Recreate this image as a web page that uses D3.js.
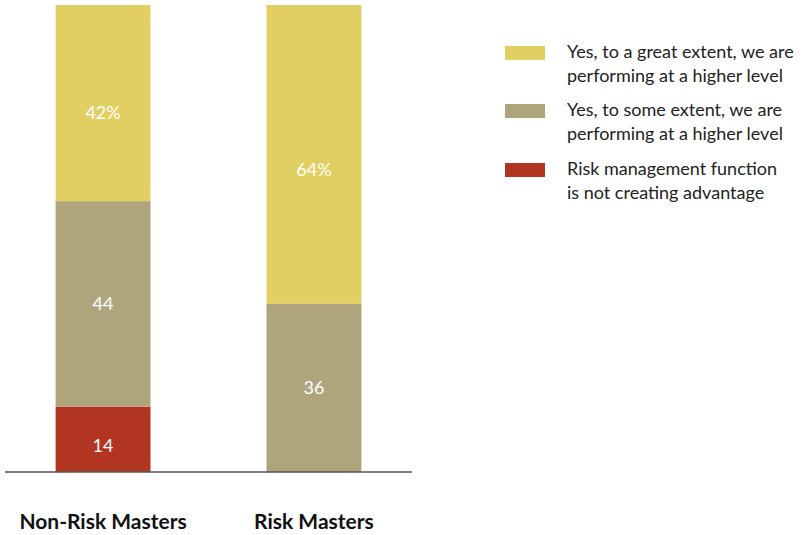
<!DOCTYPE html>
<html>
<head>
<meta charset="utf-8">
<script src="https://cdn.jsdelivr.net/npm/d3@7"></script>
<style>
  body { margin: 0; background: #fff; }
  text { font-family: "Lato", "Open Sans", sans-serif; }
</style>
</head>
<body>
<div id="chart"></div>
<script>
// Data
const groups = ["Non-Risk Masters", "Risk Masters"];
const seriesNames = [
  "Risk management function|is not creating advantage",
  "Yes, to some extent, we are|performing at a higher level",
  "Yes, to a great extent, we are|performing at a higher level"
];
const notCreating = [14, 0];
const someExtent = [44, 36];
const greatExtent = [42, 64];
const labelFormats = ["", "", "%"];
const colors = ["#b23522", "#afa57d", "#e2cf62"];
// where the value label sits inside its segment (0 = bottom, 1 = top)
const labelPos = [0.4, 0.5, 0.45];

const width = 803, height = 535;
const margin = { top: 5, bottom: 63 };

const svg = d3.select("#chart").append("svg")
  .attr("width", width)
  .attr("height", height);

const rows = groups.map((g, i) => ({
  group: g,
  s0: notCreating[i],
  s1: someExtent[i],
  s2: greatExtent[i]
}));

const stack = d3.stack().keys(["s0", "s1", "s2"]);
const stacked = stack(rows);

const x = d3.scaleBand()
  .domain(groups)
  .range([5, 412])
  .paddingInner(0.55)
  .paddingOuter(0.24);

const y = d3.scaleLinear()
  .domain([0, 100])
  .range([height - margin.bottom, margin.top]);

// Bars
const layers = svg.selectAll(".layer")
  .data(stacked)
  .enter().append("g")
  .attr("class", "layer")
  .attr("fill", (d, i) => colors[i]);

layers.selectAll("rect")
  .data(d => d.filter(p => p[1] - p[0] > 0))
  .enter().append("rect")
  .attr("x", d => x(d.data.group))
  .attr("width", x.bandwidth())
  .attr("y", d => y(d[1]))
  .attr("height", d => y(d[0]) - y(d[1]));

// Value labels
layers.each(function(layer, li) {
  d3.select(this).selectAll("text")
    .data(layer.filter(p => p[1] - p[0] > 0))
    .enter().append("text")
    .attr("x", d => x(d.data.group) + x.bandwidth() / 2)
    .attr("y", d => y(d[0] + (d[1] - d[0]) * labelPos[li]))
    .attr("dy", "0.36em")
    .attr("text-anchor", "middle")
    .attr("fill", "#fff")
    .style("font-size", "18px")
    .text(d => (d[1] - d[0]) + labelFormats[li]);
});

// Baseline
svg.append("line")
  .attr("x1", 5).attr("x2", 412)
  .attr("y1", y(0)).attr("y2", y(0))
  .attr("stroke", "#555")
  .attr("stroke-width", 1.3);

// Category labels
const xAxis = svg.append("g")
  .attr("transform", "translate(0," + y(0) + ")")
  .call(d3.axisBottom(x).tickSize(0).tickPadding(0));
xAxis.select(".domain").remove();
xAxis.selectAll("text")
  .attr("y", 57)
  .attr("dy", 0)
  .attr("fill", "#111")
  .style("font-family", "Lato, 'Open Sans', sans-serif")
  .style("font-size", "21px")
  .style("font-weight", "bold");

// Legend
const legendOrder = [2, 1, 0];
const legendTops = [46, 104, 163];
const legend = svg.selectAll(".legend")
  .data(legendOrder)
  .enter().append("g")
  .attr("class", "legend")
  .attr("transform", (d, i) => "translate(505," + legendTops[i] + ")");

legend.append("rect")
  .attr("width", 40)
  .attr("height", 14)
  .attr("fill", d => colors[d]);

legend.append("text")
  .attr("x", 62)
  .attr("y", 12)
  .attr("fill", "#222")
  .style("font-size", "18px")
  .selectAll("tspan")
  .data(d => seriesNames[d].split("|"))
  .enter().append("tspan")
  .attr("x", 62)
  .attr("dy", (d, i) => i === 0 ? 0 : 24)
  .text(d => d);
</script>
</body>
</html>
